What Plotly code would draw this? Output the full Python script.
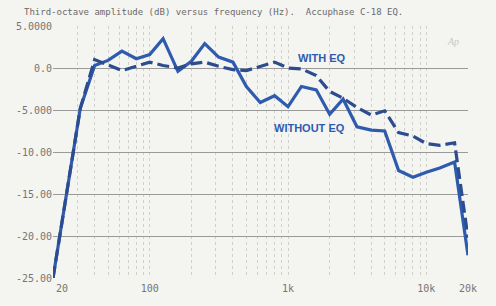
import plotly.graph_objects as go

# Third-octave centre frequencies (Hz)
freqs = [20, 25, 31.5, 40, 50, 63, 80, 100, 125, 160, 200, 250, 315, 400, 500,
         630, 800, 1000, 1250, 1600, 2000, 2500, 3150, 4000, 5000, 6300, 8000,
         10000, 12500, 16000, 20000]

# Amplitude (dB) without EQ (solid)
without_eq = [-25.0, -15.0, -4.8, 0.3, 0.9, 2.0, 1.1, 1.6, 3.5, -0.4, 0.8, 2.9,
              1.3, 0.7, -2.2, -4.1, -3.3, -4.6, -2.2, -2.6, -5.5, -3.7, -7.0,
              -7.4, -7.5, -12.2, -13.0, -12.4, -11.9, -11.2, -22.3]

# Amplitude (dB) with EQ (dashed)
with_eq = [-25.0, -15.0, -4.8, 1.0, 0.4, -0.3, 0.2, 0.7, 0.3, 0.0, 0.5, 0.7,
           0.2, -0.2, -0.3, 0.2, 0.7, 0.0, -0.1, -0.9, -2.8, -3.6, -4.7,
           -5.6, -5.1, -7.7, -8.1, -9.0, -9.2, -8.9, -20.2]

y_tickvals = [5, 0, -5, -10, -15, -20, -25]
y_ticktext = ["5.0000", "0.0", "-5.000", "-10.00", "-15.00", "-20.00", "-25.00"]
x_tickvals = [20, 100, 1000, 10000, 20000]
x_ticktext = ["\u00a0\u00a0\u00a020", "100", "1k", "10k", "20k"]
x_minor = [20, 30, 40, 50, 60, 70, 80, 90, 100, 200, 300, 400, 500, 600, 700,
           800, 900, 1000, 2000, 3000, 4000, 5000, 6000, 7000, 8000, 9000,
           10000, 20000]

title_text = "Third-octave amplitude (dB) versus frequency (Hz).  Accuphase C-18 EQ."

mono = "DejaVu Sans Mono"
tick_col = "#767674"

fig = go.Figure()
fig.add_trace(go.Scatter(x=freqs, y=without_eq, mode="lines",
                         line=dict(color="#2F5BAE", width=3.2),
                         name="WITHOUT EQ", showlegend=False))
fig.add_trace(go.Scatter(x=freqs, y=with_eq, mode="lines",
                         line=dict(color="#2B4C8E", width=3.2, dash="12px,5px"),
                         name="WITH EQ", showlegend=False))

fig.update_layout(
    width=496, height=306,
    margin=dict(l=53, r=28, t=26, b=23),
    paper_bgcolor="#f4f4f1", plot_bgcolor="#f4f4f1",
    xaxis=dict(type="log", range=[1.30103, 4.30103],
               tickvals=x_tickvals, ticktext=x_ticktext,
               showgrid=False, zeroline=False, showline=False,
               ticks="", ticklabelstandoff=3,
               tickfont=dict(family=mono, size=10, color=tick_col),
               minor=dict(tickvals=x_minor, showgrid=True, gridcolor="#cfcfcb",
                          griddash="dot", gridwidth=1, ticks="")),
    yaxis=dict(range=[-25, 5], tickvals=y_tickvals, ticktext=y_ticktext,
               showgrid=True, gridcolor="#9a9a98", gridwidth=1,
               zeroline=False, showline=False, ticks="",
               tickfont=dict(family=mono, size=10, color=tick_col)),
    annotations=[
        dict(text=title_text, xref="paper", yref="paper", x=-0.075, y=1.055,
             xanchor="left", yanchor="middle", showarrow=False,
             font=dict(family=mono, size=9, color="#6a6a68")),
        dict(text="<b>WITH EQ</b>", xref="paper", yref="paper", x=0.648, y=0.875,
             xanchor="center", yanchor="middle", showarrow=False,
             font=dict(family="Liberation Sans", size=11, color="#2F5BAE")),
        dict(text="<b>WITHOUT EQ</b>", xref="paper", yref="paper", x=0.619, y=0.595,
             xanchor="center", yanchor="middle", showarrow=False,
             font=dict(family="Liberation Sans", size=11, color="#2F5BAE")),
        dict(text="<i>Ap</i>", xref="paper", yref="paper", x=0.965, y=0.94,
             xanchor="center", yanchor="middle", showarrow=False,
             font=dict(family="Liberation Serif", size=10, color="#c8c8c4")),
    ],
)

fig.write_html("out.html")
